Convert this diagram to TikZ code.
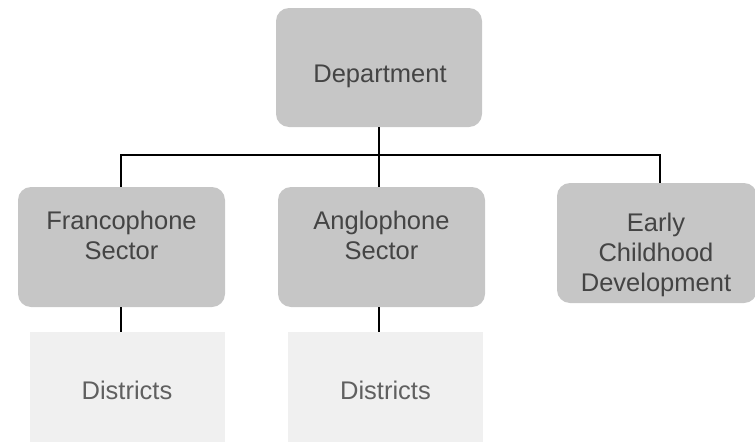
\documentclass[tikz,border=0pt]{standalone}
\usepackage{fontspec}
\setmainfont{Liberation Sans}
\definecolor{boxgray}{HTML}{C6C6C6}
\definecolor{fadegray}{HTML}{F0F0F0}
\definecolor{txtgray}{HTML}{444444}
\begin{document}
\begin{tikzpicture}[x=1pt,y=-1pt,
  unit/.style={fill=boxgray, rounded corners=13pt, inner sep=0pt, anchor=center},
  faded/.style={fill=fadegray, inner sep=0pt, anchor=center},
  lbl/.style={text=txtgray, align=center, font=\fontsize{25.5}{30}\selectfont,
    inner sep=0pt, anchor=center},
  link/.style={draw=black, line width=1.8pt}]
\useasboundingbox (0,0) rectangle (755,442);
\node[unit, minimum width=206pt, minimum height=119pt] (dept) at (379,67.5) {};
\node[unit, minimum width=207pt, minimum height=120pt] (fr) at (121.5,247) {};
\node[unit, minimum width=207pt, minimum height=120pt] (an) at (381.5,247) {};
\node[unit, minimum width=200pt, minimum height=120pt] (ec) at (657,243) {};
\node[faded, minimum width=195pt, minimum height=110pt] (d1) at (127,387) {};
\node[faded, minimum width=195pt, minimum height=110pt] (d2) at (385.5,387) {};
\node[lbl] (deptT) at (380,76) {Department};
\node[lbl] (frT) at (121.5,235) {Francophone\\Sector};
\node[lbl] (anT) at (381.5,235) {Anglophone\\Sector};
\node[lbl] (ecT) at (656,255) {Early\\Childhood\\Development};
\node[lbl, text=txtgray!85] (d1T) at (127,390) {Districts};
\node[lbl, text=txtgray!85] (d2T) at (385.5,390) {Districts};
\coordinate (bus) at (0,155);
\coordinate (frx) at (121,0);
\coordinate (anx) at (379,0);
\coordinate (ecx) at (660,0);
\draw[link] (dept.south -| anx) -- (anx |- bus);
\draw[link] (frx |- fr.north) -- (frx |- bus) -- (ecx |- bus) -- (ecx |- ec.north);
\draw[link] (anx |- bus) -- (anx |- an.north);
\draw[link] (frx |- fr.south) -- (frx |- d1.north);
\draw[link] (anx |- an.south) -- (anx |- d2.north);
\end{tikzpicture}
\end{document}
